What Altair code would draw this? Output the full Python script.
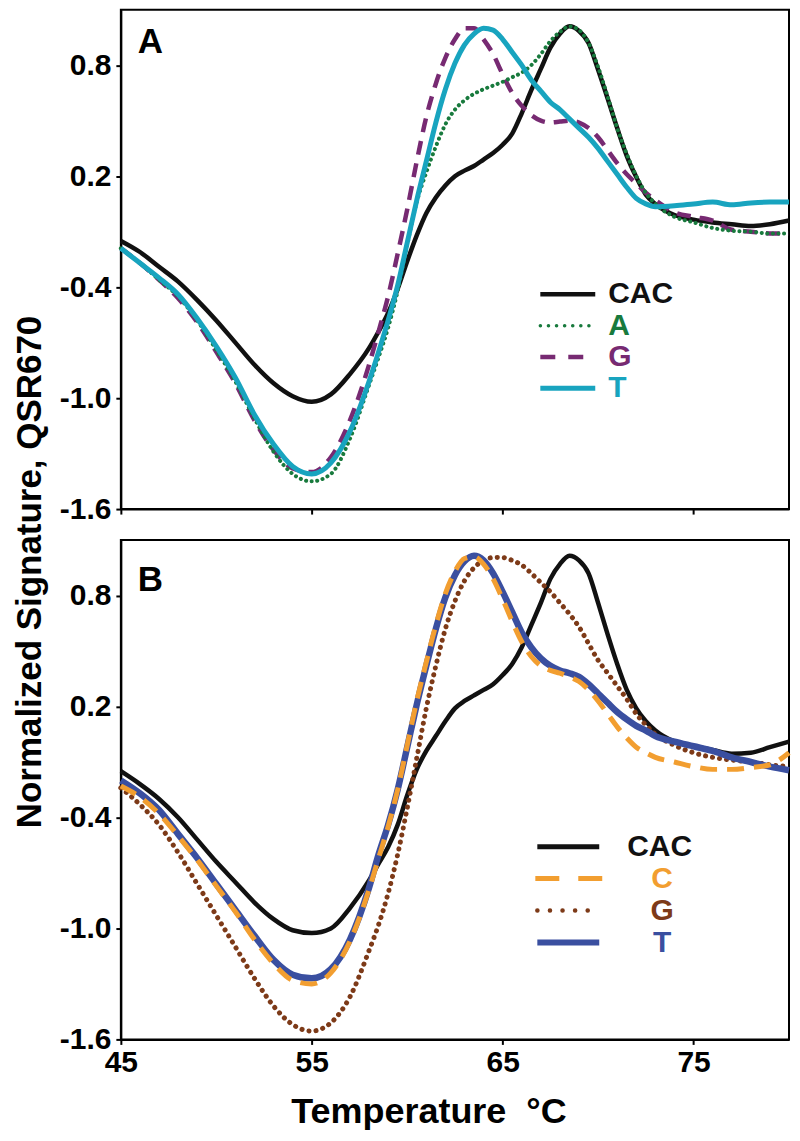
import altair as alt
import pandas as pd

FONT = "Liberation Sans"

# ---------------- data ----------------
TEMP = [45, 46, 47, 48, 49, 50, 51, 52, 53, 54, 55, 56, 57, 58,
        58.5, 59, 59.5, 60, 60.5, 61, 61.5, 62, 62.5, 63,
        63.5, 64, 64.5, 65, 65.5, 66, 66.5, 67, 67.5, 68,
        68.5, 69, 69.5, 70, 70.5, 71, 71.5, 72, 72.5, 73,
        74, 75, 76, 77, 78, 79, 80]

# Panel A
A_CAC = [-0.15, -0.21, -0.29, -0.37, -0.47, -0.58, -0.70, -0.82, -0.92, -0.99, -1.02, -0.98, -0.87, -0.73,
         -0.64, -0.54, -0.41, -0.26, -0.12, 0.00, 0.085, 0.15, 0.20, 0.23,
         0.255, 0.29, 0.325, 0.37, 0.43, 0.54, 0.665, 0.78, 0.895, 0.97,
         1.01, 0.985, 0.92, 0.775, 0.62, 0.46, 0.31, 0.195, 0.10, 0.05,
         -0.01, -0.035, -0.05, -0.06, -0.07, -0.06, -0.04]
A_A = [-0.19, -0.27, -0.36, -0.45, -0.58, -0.74, -0.91, -1.11, -1.29, -1.41, -1.45, -1.41, -1.22, -0.93,
       -0.78, -0.62, -0.42, -0.17, 0.06, 0.22, 0.36, 0.48, 0.56, 0.61,
       0.645, 0.67, 0.69, 0.71, 0.735, 0.76, 0.80, 0.86, 0.93, 0.98,
       1.01, 0.99, 0.92, 0.79, 0.63, 0.46, 0.32, 0.20, 0.11, 0.05,
       -0.02, -0.05, -0.08, -0.095, -0.10, -0.11, -0.11]
A_G = [-0.19, -0.27, -0.36, -0.46, -0.59, -0.75, -0.92, -1.12, -1.28, -1.38, -1.40, -1.32, -1.12, -0.82,
       -0.64, -0.45, -0.22, 0.02, 0.28, 0.52, 0.70, 0.84, 0.94, 1.00,
       1.00, 0.94, 0.86, 0.75, 0.65, 0.58, 0.53, 0.50, 0.49, 0.495,
       0.50, 0.49, 0.46, 0.41, 0.34, 0.27, 0.21, 0.16, 0.11, 0.07,
       0.005, -0.02, -0.04, -0.09, -0.10, -0.11, -0.11]
A_T = [-0.19, -0.27, -0.35, -0.44, -0.57, -0.72, -0.89, -1.09, -1.25, -1.37, -1.41, -1.35, -1.18, -0.91,
       -0.75, -0.58, -0.39, -0.16, 0.07, 0.28, 0.49, 0.67, 0.81, 0.91,
       0.97, 1.00, 0.99, 0.94, 0.87, 0.80, 0.72, 0.66, 0.60, 0.56,
       0.51, 0.46, 0.41, 0.35, 0.28, 0.21, 0.14, 0.08, 0.05, 0.035,
       0.04, 0.05, 0.06, 0.045, 0.055, 0.06, 0.06]

# Panel B
B_CAC = [-0.15, -0.22, -0.30, -0.40, -0.52, -0.64, -0.75, -0.86, -0.95, -1.01, -1.025, -1.00, -0.89, -0.74,
         -0.65, -0.56, -0.44, -0.28, -0.14, -0.04, 0.04, 0.12, 0.19, 0.23,
         0.26, 0.29, 0.32, 0.37, 0.43, 0.52, 0.64, 0.76, 0.89, 0.97,
         1.015, 0.99, 0.92, 0.76, 0.59, 0.43, 0.29, 0.19, 0.12, 0.07,
         0.01, -0.015, -0.035, -0.055, -0.05, -0.02, 0.01]
B_C = [-0.23, -0.29, -0.38, -0.50, -0.63, -0.77, -0.91, -1.06, -1.19, -1.28, -1.30, -1.24, -1.07, -0.79,
       -0.62, -0.45, -0.25, -0.01, 0.23, 0.44, 0.64, 0.81, 0.93, 1.00,
       1.01, 0.97, 0.89, 0.78, 0.66, 0.55, 0.47, 0.42, 0.395, 0.38,
       0.36, 0.335, 0.29, 0.23, 0.16, 0.09, 0.03, -0.02, -0.05, -0.075,
       -0.10, -0.125, -0.14, -0.14, -0.13, -0.115, -0.05]
B_G = [-0.24, -0.33, -0.44, -0.59, -0.76, -0.93, -1.10, -1.27, -1.42, -1.52, -1.555, -1.51, -1.37, -1.12,
       -0.98, -0.81, -0.60, -0.35, -0.08, 0.19, 0.42, 0.62, 0.77, 0.88,
       0.95, 0.99, 1.005, 1.005, 0.99, 0.965, 0.92, 0.87, 0.82, 0.76,
       0.70, 0.63, 0.54, 0.45, 0.38, 0.31, 0.24, 0.16, 0.10, 0.05,
       -0.01, -0.05, -0.075, -0.09, -0.10, -0.115, -0.125]
B_T = [-0.20, -0.27, -0.36, -0.49, -0.62, -0.76, -0.90, -1.04, -1.17, -1.25, -1.27, -1.22, -1.06, -0.78,
       -0.60, -0.44, -0.25, -0.02, 0.21, 0.42, 0.62, 0.79, 0.91, 0.985,
       1.015, 0.99, 0.92, 0.82, 0.71, 0.60, 0.52, 0.46, 0.42, 0.395,
       0.38, 0.36, 0.32, 0.27, 0.22, 0.17, 0.13, 0.095, 0.07, 0.04,
       0.01, -0.015, -0.04, -0.075, -0.10, -0.125, -0.145]

LEGEND_A = ["CAC", "A", "G", "T"]
LEGEND_B = ["CAC", "C", "G", "T"]
PANEL_LABELS = ["A", "B"]
Y_TITLE = ["Normalized Signature, QSR670"]
X_TITLE = "Temperature\u00a0\u00a0°C"
X_TICKS = [45, 55, 65, 75]
Y_TICKS = [-1.6, -1.0, -0.4, 0.2, 0.8]

# ---------------- styles ----------------
BLACK = "#111111"
GREEN = "#187a3d"
PURPLE = "#772a72"
CYAN = "#18a4bf"
ORANGE = "#f29e30"
BROWN = "#7d3a18"
BLUE = "#3a4fa0"

W, H = 669, 500


def long_df(series):
    rows = []
    for name, vals in series.items():
        for t, v in zip(TEMP, vals):
            rows.append({"temp": t, "value": v, "series": name})
    return pd.DataFrame(rows)


dfA = long_df({"CAC": A_CAC, "A": A_A, "G": A_G, "T": A_T})
dfB = long_df({"CAC": B_CAC, "C": B_C, "G": B_G, "T": B_T})
legA = pd.DataFrame({"labelA": LEGEND_A, "row": list(range(len(LEGEND_A)))})
legB = pd.DataFrame({"labelB": LEGEND_B, "row": list(range(len(LEGEND_B)))})

xscale = alt.Scale(domain=[45, 80], nice=False, zero=False)
yscale = alt.Scale(domain=[-1.6, 1.1], nice=False, zero=False)

ylabel_expr = "(datum.value < 0 ? '-' : '') + format(abs(datum.value), '.1f')"


def y_axis():
    return alt.Axis(values=Y_TICKS, labelExpr=ylabel_expr, labelPadding=5, tickSize=5, title=None)


def x_axis(with_labels):
    kw = dict(values=X_TICKS, format="d", tickSize=5, labelFlush=False)
    if with_labels:
        kw.update(labelPadding=3, title=X_TITLE, titleFontSize=36,
                  titleX=308, titleY=83, titleAlign="center", titleBaseline="alphabetic")
    else:
        kw.update(labels=False, title=None)
    return alt.Axis(**kw)


def curve(df, name, color, width, xa, ya, dash=None, cap="butt"):
    kw = dict(color=color, strokeWidth=width, strokeCap=cap, interpolate="monotone")
    if dash:
        kw["strokeDash"] = dash
    return alt.Chart(df).transform_filter(alt.datum.series == name).mark_line(**kw).encode(
        x=alt.X("temp:Q", scale=xscale, axis=xa),
        y=alt.Y("value:Q", scale=yscale, axis=ya),
        order="temp:Q",
    )


def leg_rule(df, field, name, yrange, x0, x1, color, width, dash=None, cap="butt"):
    kw = dict(color=color, strokeWidth=width, strokeCap=cap)
    if dash:
        kw["strokeDash"] = dash
    return alt.Chart(df).transform_filter(alt.datum[field] == name).mark_rule(**kw).encode(
        x=alt.value(x0), x2=alt.value(x1),
        y=alt.Y("row:Q", scale=alt.Scale(domain=[0, 3], range=yrange, nice=False, zero=False), axis=None),
    )


def leg_text(df, field, names, colors, yrange, x, align, sel, size):
    return alt.Chart(df).transform_filter(
        alt.FieldOneOfPredicate(field=field, oneOf=sel)
    ).mark_text(align=align, baseline="middle", fontSize=size, fontWeight="bold", font=FONT).encode(
        x=alt.value(x),
        y=alt.Y("row:Q", scale=alt.Scale(domain=[0, 3], range=yrange, nice=False, zero=False), axis=None),
        text=f"{field}:N",
        color=alt.Color(f"{field}:N", scale=alt.Scale(domain=names, range=colors), legend=None),
    )


def panel_label(letter, ypos):
    return alt.Chart(pd.DataFrame({"panel": [letter]})).mark_text(
        align="left", baseline="alphabetic", fontSize=35, fontWeight="bold", font=FONT, color="black"
    ).encode(text="panel:N", x=alt.value(17), y=alt.value(ypos))


# shared y-axis title, drawn as a rotated text next to panel A
y_title = alt.Chart(pd.DataFrame({"title": Y_TITLE})).mark_text(
    angle=270, align="center", baseline="alphabetic", fontSize=35, fontWeight="bold",
    font=FONT, color="black"
).encode(text="title:N", x=alt.value(-80), y=alt.value(563))

# ---------------- panel A ----------------
xaA, yaA = x_axis(False), y_axis()
curvesA = alt.layer(
    curve(dfA, "CAC", BLACK, 4.5, xaA, yaA),
    curve(dfA, "G", PURPLE, 4.5, xaA, yaA, dash=[14, 9]),
    curve(dfA, "A", GREEN, 4, xaA, yaA, dash=[0.1, 5.5], cap="round"),
    curve(dfA, "T", CYAN, 5, xaA, yaA),
)
colorsA = [BLACK, GREEN, PURPLE, CYAN]
yrA = [285, 379]
legendA = alt.layer(
    leg_rule(legA, "labelA", "CAC", yrA, 420, 475, BLACK, 4.5),
    leg_rule(legA, "labelA", "A", yrA, 420, 472, GREEN, 3.5, dash=[0.1, 8], cap="round"),
    leg_rule(legA, "labelA", "G", yrA, 420, 464, PURPLE, 4.5, dash=[15, 13]),
    leg_rule(legA, "labelA", "T", yrA, 420, 475, CYAN, 5),
    leg_text(legA, "labelA", LEGEND_A, colorsA, yrA, 488, "left", LEGEND_A, 30),
    panel_label(PANEL_LABELS[0], 43),
    y_title,
)
panelA = alt.layer(curvesA, legendA).resolve_scale(y="independent").properties(width=W, height=H)

# ---------------- panel B ----------------
xaB, yaB = x_axis(True), y_axis()
curvesB = alt.layer(
    curve(dfB, "CAC", BLACK, 4.5, xaB, yaB),
    curve(dfB, "G", BROWN, 5, xaB, yaB, dash=[0.1, 7], cap="round"),
    curve(dfB, "T", BLUE, 6.5, xaB, yaB),
    curve(dfB, "C", ORANGE, 5, xaB, yaB, dash=[17, 10]),
)
colorsB = [BLACK, ORANGE, BROWN, BLUE]
yrB = [307, 403]
legendB = alt.layer(
    leg_rule(legB, "labelB", "CAC", yrB, 417, 479, BLACK, 5),
    leg_rule(legB, "labelB", "C", yrB, 415, 482, ORANGE, 5, dash=[24, 19]),
    leg_rule(legB, "labelB", "G", yrB, 417, 479, BROWN, 4.5, dash=[0.1, 12.5], cap="round"),
    leg_rule(legB, "labelB", "T", yrB, 417, 479, BLUE, 6),
    leg_text(legB, "labelB", LEGEND_B, colorsB, yrB, 507, "left", ["CAC"], 30),
    leg_text(legB, "labelB", LEGEND_B, colorsB, yrB, 542, "center", ["C", "G", "T"], 30),
    panel_label(PANEL_LABELS[1], 51),
)
panelB = alt.layer(curvesB, legendB).resolve_scale(y="independent").properties(width=W, height=H)

chart = alt.vconcat(panelA, panelB, spacing=31, bounds="flush").resolve_scale(
    color="independent"
).properties(
    padding={"left": 4, "top": 0, "right": -11, "bottom": 0}
).configure_view(
    stroke="black", strokeWidth=2
).configure_axis(
    domainColor="black", domainWidth=2, tickColor="black", tickWidth=2,
    labelFont=FONT, labelFontSize=30, labelFontWeight="bold", labelColor="black",
    titleFont=FONT, titleFontWeight="bold", titleColor="black", grid=False,
)

chart.save("out.html", embed_options={"renderer": "svg", "actions": False})
